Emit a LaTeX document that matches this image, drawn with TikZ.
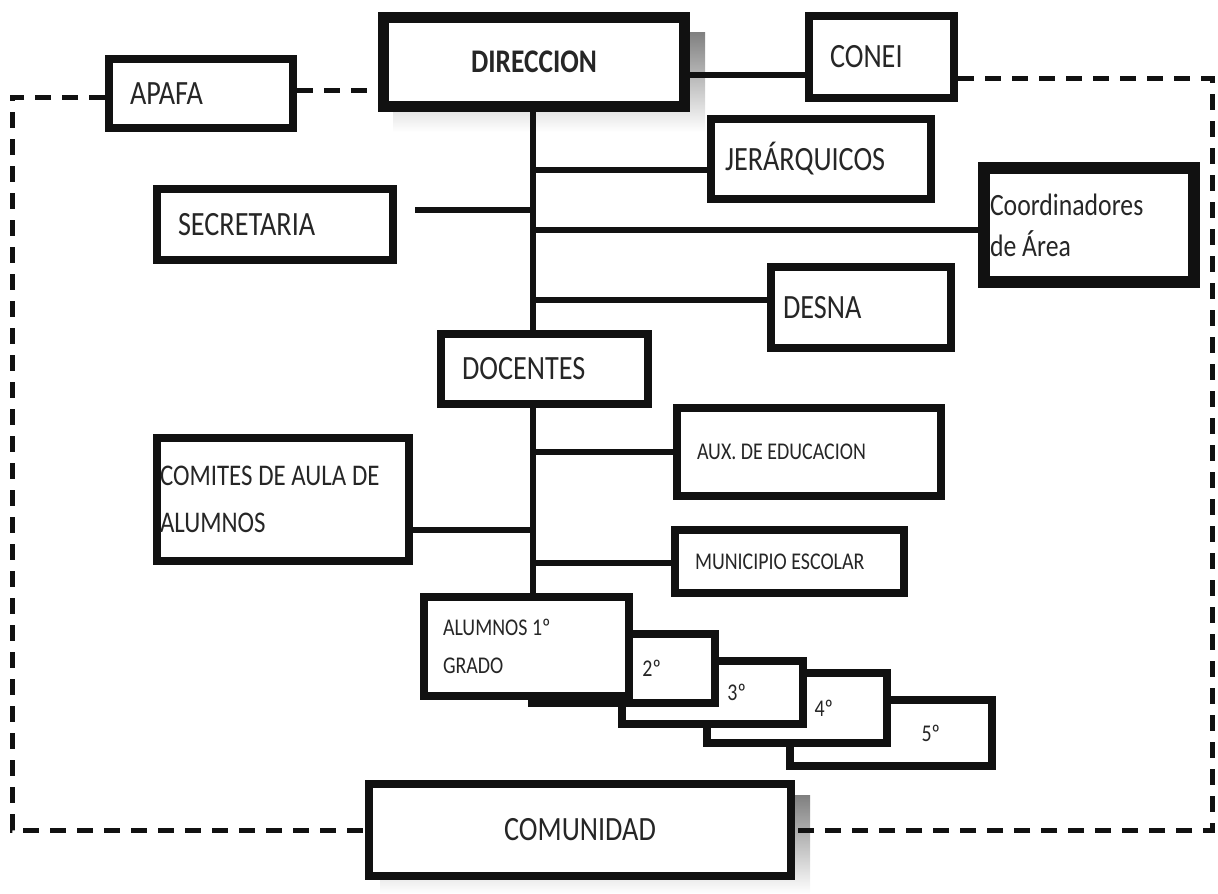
\documentclass[tikz,border=0pt]{standalone}
\usepackage{fontspec}
\setmainfont{Carlito}[FakeStretch=0.83]
\newcommand\tsp{\spaceskip=0.19em plus 0.05em\relax}
\definecolor{ink}{HTML}{111111}
\definecolor{txt}{HTML}{262626}
\definecolor{shade}{HTML}{C4C4C4}
\tikzset{
  box/.style={draw=ink, line width=8pt, fill=white, inner sep=0pt, text=txt,
    align=left, font=\fontsize{34}{40}\selectfont},
  smalltext/.style={font=\fontsize{24}{38}\selectfont},
  conn/.style={draw=ink, line width=6pt},
  dashline/.style={draw=ink, line width=5pt, dash pattern=on 16pt off 11pt},
}
\begin{document}
\begin{tikzpicture}[x=1pt, y=-1pt]
\useasboundingbox (0,0) rectangle (1218,894);
% shadows
\fill[shade] (393,32) rectangle (705,132);
\fill[shade] (380,795) rectangle (810,894);
% boxes
\node[box, line width=11pt, align=center, minimum width=301pt, minimum height=89pt,
  font=\bfseries\fontsize{33}{40}\selectfont] (dir) at (534,62) {DIRECCION};
\node[box, minimum width=145pt, minimum height=82pt, text width=103pt] (conei) at (881.5,57) {CONEI};
\node[box, minimum width=184pt, minimum height=69pt, text width=142pt] (apafa) at (201,93.5) {APAFA};
\node[box, minimum width=220pt, minimum height=80pt, text width=192pt] (jer) at (821,159) {JERÁRQUICOS};
\node[box, minimum width=236pt, minimum height=71pt, text width=194pt] (sec) at (275,224.5) {SECRETARIA};
\node[box, line width=12pt, minimum width=210pt, minimum height=114pt, text width=198pt,
  font=\fontsize{31}{41}\selectfont] (coord) at (1089,225) {\tsp Coordinadores\\de Área};
\node[box, minimum width=180pt, minimum height=81pt, text width=156pt] (desna) at (861,307.5) {DESNA};
\node[box, minimum width=207pt, minimum height=70pt, text width=165pt] (doc) at (544.5,369) {DOCENTES};
\node[box, smalltext, minimum width=264pt, minimum height=88pt, text width=224pt] (aux) at (809,452) {\tsp AUX. DE EDUCACION};
\node[box, minimum width=252pt, minimum height=123pt, text width=246pt,
  font=\fontsize{30}{47}\selectfont] (comites) at (283,499.5) {\tsp COMITES DE AULA DE\\ALUMNOS};
\node[box, smalltext, minimum width=229pt, minimum height=63pt, text width=189pt] (muni) at (789.5,561.5) {\tsp MUNICIPIO ESCOLAR};
% grade boxes, back to front
\node[box, smalltext, align=right, minimum width=202pt, minimum height=66pt, text width=98pt] (g5) at (891,733) {5º};
\node[box, smalltext, align=right, minimum width=180pt, minimum height=70pt, text width=72pt] (g4) at (797,708) {4º};
\node[box, smalltext, align=right, minimum width=181pt, minimum height=63pt, text width=67pt] (g3) at (712.5,692.5) {3º};
\node[box, smalltext, align=right, minimum width=183pt, minimum height=69pt, text width=75pt] (g2) at (623.5,668.5) {2º};
\node[box, smalltext, minimum width=205pt, minimum height=99pt, text width=167pt] (g1) at (526.5,646.5) {\tsp ALUMNOS 1º\\GRADO};
\node[box, align=center, minimum width=422pt, minimum height=92pt] (com) at (580,830) {COMUNIDAD};
% trunk and connectors
\coordinate (tA) at (533,0);
\coordinate (secend) at (415,210);
\draw[conn] (dir.south -| tA) -- (doc.north -| tA);
\draw[conn] (doc.south -| tA) -- (g1.north -| tA);
\draw[conn] (dir.east |- 0,75) -- (conei.west |- 0,75);
\draw[conn] (tA |- 0,170) -- (jer.west |- 0,170);
\draw[conn] (secend) -- (tA |- secend);
\draw[conn] (tA |- 0,230) -- (coord.west |- 0,230);
\draw[conn] (tA |- 0,300) -- (desna.west |- 0,300);
\draw[conn] (tA |- 0,452) -- (aux.west |- 0,452);
\draw[conn] (comites.east |- 0,530) -- (tA |- 0,530);
\draw[conn] (tA |- 0,563) -- (muni.west |- 0,563);
% dashed links
\coordinate (bl) at (12,830);
\coordinate (br) at (1212,830);
\draw[dashline] (apafa.east |- 0,90) -- (dir.west |- 0,90);
\draw[dashline] (apafa.west |- 0,97) -| (bl) -- (com.west);
\draw[dashline] (conei.east |- 0,78) -| (br) -- (com.east);
\end{tikzpicture}
\end{document}
